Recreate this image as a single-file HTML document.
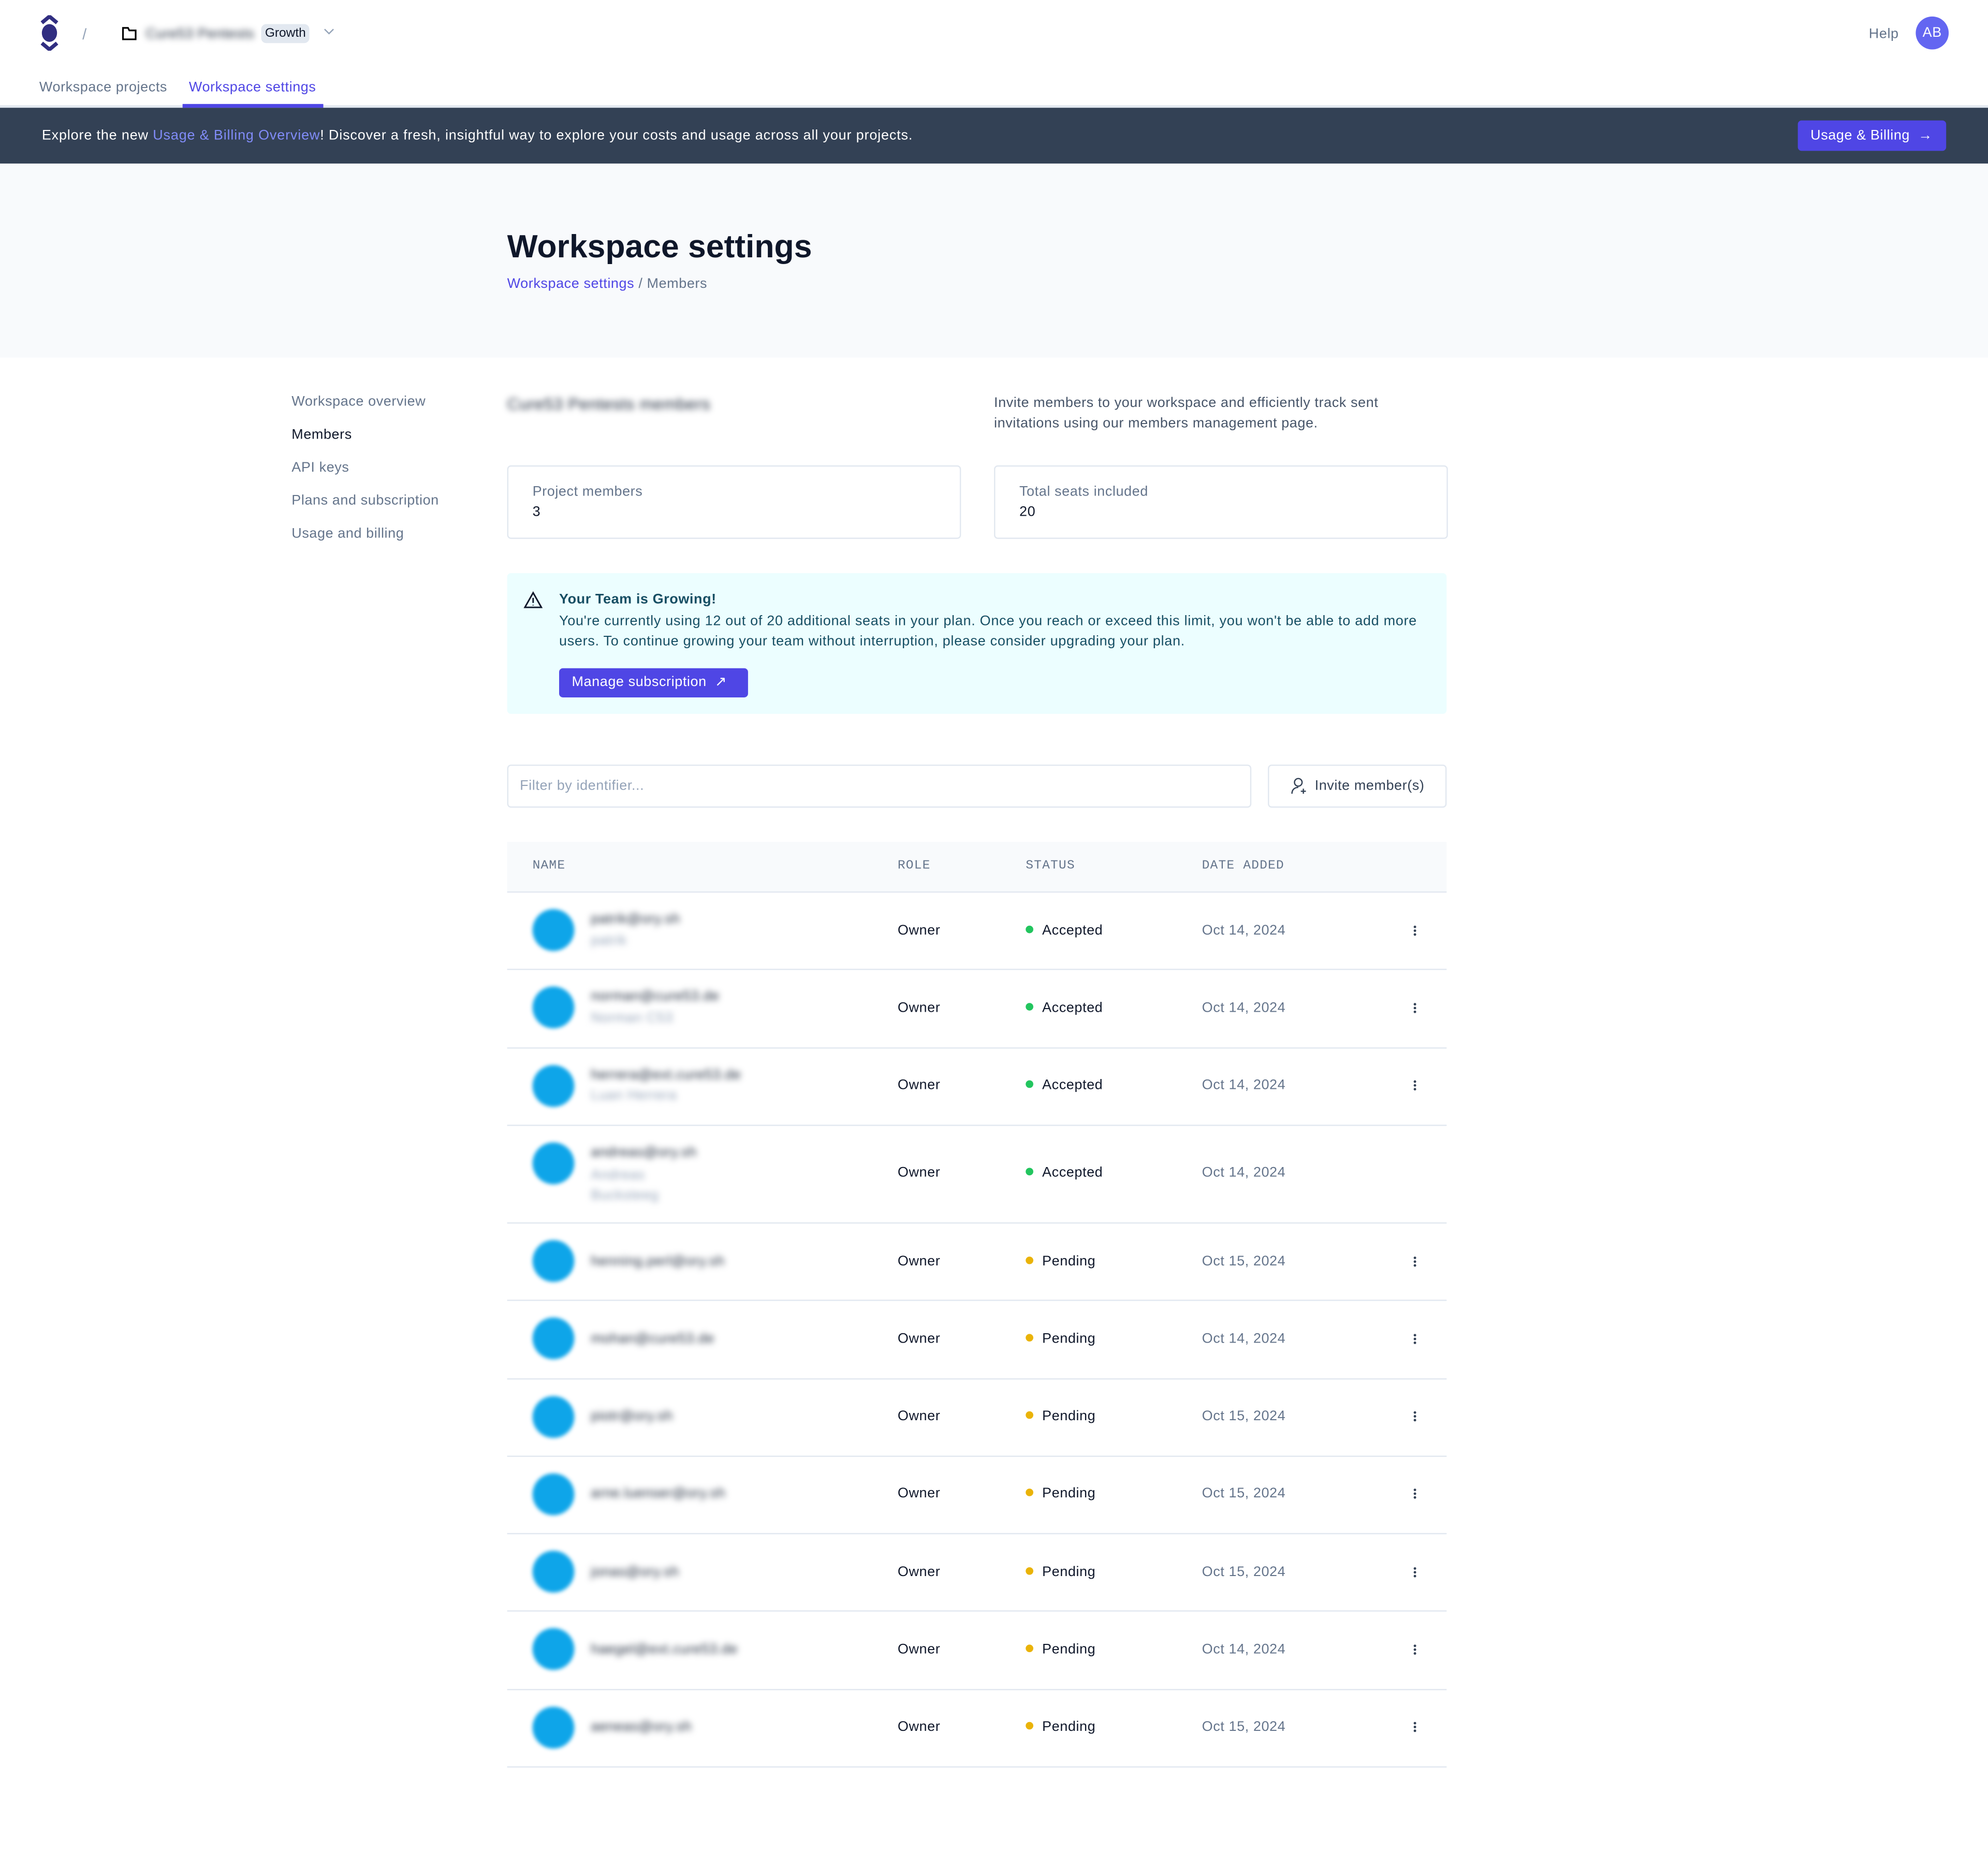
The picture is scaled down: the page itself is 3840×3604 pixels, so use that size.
<!DOCTYPE html>
<html><head><meta charset="utf-8"><style>
*{margin:0;padding:0;box-sizing:border-box}
html,body{width:3840px;height:3604px;overflow:hidden;background:#fff}
#w{width:1568px;height:1472px;transform:scale(2.44898);transform-origin:0 0;position:relative;font-family:"Liberation Sans",sans-serif;color:#0f172a;font-size:11px;letter-spacing:0.25px}
.a{position:absolute;white-space:nowrap}
.blur{filter:blur(2.5px);color:#1e293b}
.g{color:#64748b}
.row{position:absolute;left:400px;width:741px;border-bottom:1px solid #e2e8f0}
.av{position:absolute;left:420px;width:33px;height:33px;border-radius:50%;background:#0ea5e9;filter:blur(1.5px)}
.dot{display:inline-block;width:6px;height:6px;border-radius:50%;margin-right:7px;vertical-align:1px}
.keb{position:absolute;left:1115px;width:2px;height:2px;background:#334155;border-radius:1px;box-shadow:0 3px 0 #334155,0 -3px 0 #334155}
.mono{font-family:"Liberation Mono",monospace;font-size:10px;color:#64748b;letter-spacing:.5px}
</style></head><body><div id="w">
<svg class="a" style="left:31px;top:12px" width="16" height="28"><path d="M2 6 L8 1 L14 6" stroke="#312e81" stroke-width="3" fill="none"/><ellipse cx="8" cy="14" rx="6" ry="7" fill="#312e81"/><path d="M2 22 L8 27 L14 22" stroke="#312e81" stroke-width="3" fill="none"/></svg>
<div class="a" style="left:65px;top:20px;color:#94a3b8;font-size:12px">/</div>
<svg class="a" style="left:96px;top:21px" width="12" height="11"><path d="M1 1h4l1 2h5v7H1z" stroke="#000" stroke-width="1.3" fill="none"/></svg>
<div class="a blur" style="left:115px;top:21px;font-size:11px">Cure53 Pentests</div>
<div class="a" style="left:206px;top:19px;background:#e2e8f0;border-radius:4px;padding:2px 3px;font-size:10px;letter-spacing:0">Growth</div>
<svg class="a" style="left:255px;top:22px" width="9" height="6"><path d="M1 1l3.5 3.5L8 1" stroke="#94a3b8" fill="none"/></svg>
<div class="a g" style="left:1474px;top:21px;font-size:11px">Help</div>
<div class="a" style="left:1511px;top:13px;width:26px;height:26px;border-radius:50%;background:#6366f1;color:#fff;font-size:11px;text-align:center;line-height:26px">AB</div>
<div class="a g" style="left:31px;top:63px">Workspace projects</div>
<div class="a" style="left:149px;top:63px;color:#4f46e5">Workspace settings</div>
<div class="a" style="left:0;top:83px;width:1568px;height:2px;background:#e2e8f0"></div>
<div class="a" style="left:144px;top:82px;width:111px;height:3px;background:#4f46e5"></div>
<div class="a" style="left:0;top:85px;width:1568px;height:44px;background:#334155"></div>
<div class="a" style="left:33px;top:101px;color:#fff;letter-spacing:0.35px">Explore the new <span style="color:#818cf8">Usage &amp; Billing Overview</span>! Discover a fresh, insightful way to explore your costs and usage across all your projects.</div>
<div class="a" style="left:1418px;top:95px;width:117px;height:24px;background:#4f46e5;border-radius:3px;color:#fff;line-height:24px;padding-left:10px">Usage &amp; Billing &nbsp;&#8594;</div>
<div class="a" style="left:0;top:129px;width:1568px;height:153px;background:#f8fafc"></div>
<div class="a" style="left:400px;top:181px;font-size:25.5px;font-weight:bold;color:#0f172a;letter-spacing:0">Workspace settings</div>
<div class="a" style="left:400px;top:218px;font-size:11px"><span style="color:#4f46e5">Workspace settings</span> <span class="g">/ Members</span></div>
<div class="a g" style="left:230px;top:311px">Workspace overview</div>
<div class="a" style="left:230px;top:337px">Members</div>
<div class="a g" style="left:230px;top:363px">API keys</div>
<div class="a g" style="left:230px;top:389px">Plans and subscription</div>
<div class="a g" style="left:230px;top:415px">Usage and billing</div>
<div class="a blur" style="left:400px;top:311px;font-size:13px">Cure53 Pentests members</div>
<div class="a g" style="left:784px;top:310px;line-height:16px;color:#475569">Invite members to your workspace and efficiently track sent<br>invitations using our members management page.</div>
<div class="a" style="left:400px;top:367px;width:358px;height:58px;border:1px solid #e2e8f0;border-radius:3px"></div>
<div class="a g" style="left:420px;top:382px">Project members</div><div class="a" style="left:420px;top:398px">3</div>
<div class="a" style="left:784px;top:367px;width:358px;height:58px;border:1px solid #e2e8f0;border-radius:3px"></div>
<div class="a g" style="left:804px;top:382px">Total seats included</div><div class="a" style="left:804px;top:398px">20</div>
<div class="a" style="left:400px;top:452px;width:741px;height:111px;background:#ecfeff;border-radius:3px"></div>
<svg class="a" style="left:413px;top:466px" width="15" height="14"><path d="M7.5 1.5L14 13H1z" stroke="#0f172a" stroke-width="1.2" fill="none"/><path d="M7.5 5.5v4M7.5 11v.5" stroke="#0f172a" stroke-width="1.2"/></svg>
<div class="a" style="left:441px;top:467px;font-weight:bold;color:#164e63">Your Team is Growing!</div>
<div class="a" style="left:441px;top:482px;line-height:16px;color:#164e63;letter-spacing:0.3px">You're currently using 12 out of 20 additional seats in your plan. Once you reach or exceed this limit, you won't be able to add more<br>users. To continue growing your team without interruption, please consider upgrading your plan.</div>
<div class="a" style="left:441px;top:527px;width:149px;height:23px;background:#4f46e5;border-radius:3px;color:#fff;line-height:23px;padding-left:10px">Manage subscription &nbsp;&#8599;</div>
<div class="a" style="left:400px;top:603px;width:587px;height:34px;border:1px solid #e2e8f0;border-radius:3px;color:#94a3b8;line-height:33px;padding-left:9px">Filter by identifier...</div>
<div class="a" style="left:1000px;top:603px;width:141px;height:34px;border:1px solid #e2e8f0;border-radius:3px;line-height:33px;padding-left:36px;color:#334155">Invite member(s)</div>
<svg class="a" style="left:1018px;top:613px" width="13" height="14"><circle cx="6" cy="4" r="3" stroke="#334155" fill="none"/><path d="M1 13c0-4 3-5 5-5M10 9v4M8 11h4" stroke="#334155" fill="none"/></svg>
<div class="a" style="left:400px;top:664px;width:741px;height:40px;background:#f8fafc;border-bottom:1px solid #e2e8f0"></div>
<div class="a mono" style="left:420px;top:678px">NAME</div>
<div class="a mono" style="left:708px;top:678px">ROLE</div>
<div class="a mono" style="left:809px;top:678px">STATUS</div>
<div class="a mono" style="left:948px;top:678px">DATE ADDED</div>

<div class="row" style="top:704px;height:61px"></div>
<div class="row" style="top:765px;height:62px"></div>
<div class="row" style="top:827px;height:61px"></div>
<div class="row" style="top:888px;height:77px"></div>
<div class="row" style="top:965px;height:61px"></div>
<div class="row" style="top:1026px;height:62px"></div>
<div class="row" style="top:1088px;height:61px"></div>
<div class="row" style="top:1149px;height:61px"></div>
<div class="row" style="top:1210px;height:61px"></div>
<div class="row" style="top:1271px;height:62px"></div>
<div class="row" style="top:1333px;height:61px"></div>

<div class="av" style="top:717px"></div><div class="a blur" style="left:466px;top:719px">patrik@ory.sh</div><div class="a blur" style="left:466px;top:736px;color:#94a3b8">patrik</div>
<div class="a" style="left:708px;top:728px">Owner</div><div class="a" style="left:809px;top:728px"><span class="dot" style="background:#22c55e"></span>Accepted</div><div class="a g" style="left:948px;top:728px">Oct 14, 2024</div><div class="keb" style="top:733px"></div>

<div class="av" style="top:778px"></div><div class="a blur" style="left:466px;top:780px">norman@cure53.de</div><div class="a blur" style="left:466px;top:797px;color:#94a3b8">Norman C53</div>
<div class="a" style="left:708px;top:789px">Owner</div><div class="a" style="left:809px;top:789px"><span class="dot" style="background:#22c55e"></span>Accepted</div><div class="a g" style="left:948px;top:789px">Oct 14, 2024</div><div class="keb" style="top:794px"></div>

<div class="av" style="top:840px"></div><div class="a blur" style="left:466px;top:842px">herrera@ext.cure53.de</div><div class="a blur" style="left:466px;top:858px;color:#94a3b8">Luan Herrera</div>
<div class="a" style="left:708px;top:850px">Owner</div><div class="a" style="left:809px;top:850px"><span class="dot" style="background:#22c55e"></span>Accepted</div><div class="a g" style="left:948px;top:850px">Oct 14, 2024</div><div class="keb" style="top:855px"></div>

<div class="av" style="top:901px"></div><div class="a blur" style="left:466px;top:903px">andreas@ory.sh</div><div class="a blur" style="left:466px;top:919px;color:#94a3b8;line-height:16px">Andreas<br>Bucksteeg</div>
<div class="a" style="left:708px;top:919px">Owner</div><div class="a" style="left:809px;top:919px"><span class="dot" style="background:#22c55e"></span>Accepted</div><div class="a g" style="left:948px;top:919px">Oct 14, 2024</div>

<div class="av" style="top:978px"></div><div class="a blur" style="left:466px;top:989px">henning.perl@ory.sh</div>
<div class="a" style="left:708px;top:989px">Owner</div><div class="a" style="left:809px;top:989px"><span class="dot" style="background:#eab308"></span>Pending</div><div class="a g" style="left:948px;top:989px">Oct 15, 2024</div><div class="keb" style="top:994px"></div>

<div class="av" style="top:1039px"></div><div class="a blur" style="left:466px;top:1050px">mohan@cure53.de</div>
<div class="a" style="left:708px;top:1050px">Owner</div><div class="a" style="left:809px;top:1050px"><span class="dot" style="background:#eab308"></span>Pending</div><div class="a g" style="left:948px;top:1050px">Oct 14, 2024</div><div class="keb" style="top:1055px"></div>

<div class="av" style="top:1101px"></div><div class="a blur" style="left:466px;top:1111px">piotr@ory.sh</div>
<div class="a" style="left:708px;top:1111px">Owner</div><div class="a" style="left:809px;top:1111px"><span class="dot" style="background:#eab308"></span>Pending</div><div class="a g" style="left:948px;top:1111px">Oct 15, 2024</div><div class="keb" style="top:1116px"></div>

<div class="av" style="top:1162px"></div><div class="a blur" style="left:466px;top:1172px">arne.luenser@ory.sh</div>
<div class="a" style="left:708px;top:1172px">Owner</div><div class="a" style="left:809px;top:1172px"><span class="dot" style="background:#eab308"></span>Pending</div><div class="a g" style="left:948px;top:1172px">Oct 15, 2024</div><div class="keb" style="top:1177px"></div>

<div class="av" style="top:1223px"></div><div class="a blur" style="left:466px;top:1234px">jonas@ory.sh</div>
<div class="a" style="left:708px;top:1234px">Owner</div><div class="a" style="left:809px;top:1234px"><span class="dot" style="background:#eab308"></span>Pending</div><div class="a g" style="left:948px;top:1234px">Oct 15, 2024</div><div class="keb" style="top:1239px"></div>

<div class="av" style="top:1284px"></div><div class="a blur" style="left:466px;top:1295px">haegel@ext.cure53.de</div>
<div class="a" style="left:708px;top:1295px">Owner</div><div class="a" style="left:809px;top:1295px"><span class="dot" style="background:#eab308"></span>Pending</div><div class="a g" style="left:948px;top:1295px">Oct 14, 2024</div><div class="keb" style="top:1300px"></div>

<div class="av" style="top:1346px"></div><div class="a blur" style="left:466px;top:1356px">aeneas@ory.sh</div>
<div class="a" style="left:708px;top:1356px">Owner</div><div class="a" style="left:809px;top:1356px"><span class="dot" style="background:#eab308"></span>Pending</div><div class="a g" style="left:948px;top:1356px">Oct 15, 2024</div><div class="keb" style="top:1361px"></div>
</div></body></html>
